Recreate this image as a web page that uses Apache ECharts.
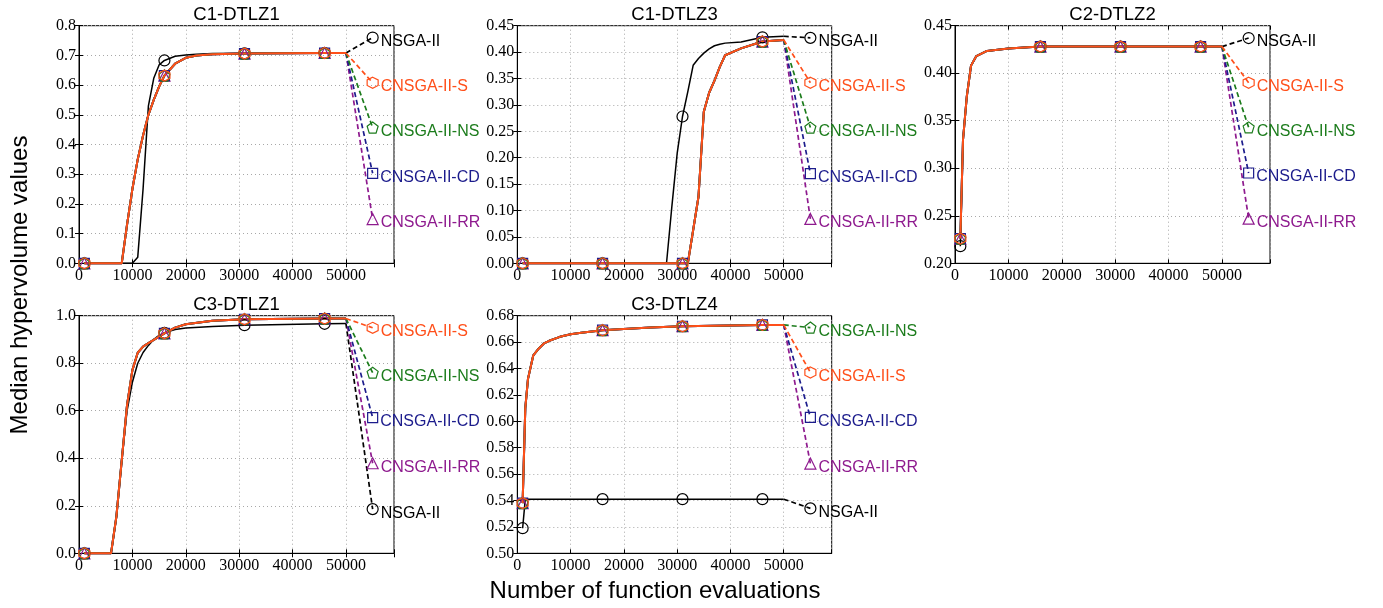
<!DOCTYPE html>
<html>
<head>
<meta charset="utf-8">
<script src="https://cdn.jsdelivr.net/npm/echarts@6/dist/echarts.min.js"></script>
<style>
html, body { margin: 0; padding: 0; background: #fff; }
#main { width: 1383px; height: 608px; }
</style>
</head>
<body>
<div id="main"></div>
<script>
var algos = ['NSGA-II', 'CNSGA-II-S', 'CNSGA-II-NS', 'CNSGA-II-CD', 'CNSGA-II-RR'];
var markEvals = [1000, 16000, 31000, 46000];
var labelEval = 55000;

// C1-DTLZ1
var c1d1Evals = [1000, 8000, 9000, 10000, 11000, 12000, 13000, 14000, 15000, 16000, 18000, 20000, 22000, 25000, 31000, 46000, 50000];
var c1d1Nsga = [0, 0, 0, 0, 0.02, 0.25, 0.53, 0.623, 0.668, 0.683, 0.697, 0.701, 0.704, 0.706, 0.707, 0.708, 0.708];
var c1d1Cnsga = [0, 0, 0.13, 0.25, 0.35, 0.43, 0.50, 0.55, 0.595, 0.632, 0.672, 0.692, 0.700, 0.704, 0.706, 0.708, 0.708];
var c1d1Ends = [0.76, 0.608, 0.457, 0.303, 0.149];

// C1-DTLZ3
var c1d3Evals = [1000, 16000, 28000, 29000, 30000, 31000, 32000, 33000, 34000, 35000, 36000, 37000, 38000, 39000, 42000, 46000, 50000];
var c1d3Nsga = [0, 0, 0, 0.107, 0.208, 0.278, 0.325, 0.375, 0.388, 0.398, 0.406, 0.412, 0.415, 0.417, 0.419, 0.428, 0.43];
var c1d3Cnsga = [0, 0, 0, 0, 0, 0, 0, 0.063, 0.126, 0.287, 0.323, 0.346, 0.372, 0.394, 0.407, 0.42, 0.423];
var c1d3Ends = [0.427, 0.342, 0.257, 0.170, 0.084];

// C2-DTLZ2
var c2d2Evals = [1000, 1500, 2200, 3000, 4000, 6000, 10000, 16000, 31000, 46000, 50000];
var c2d2Nsga = [0.218, 0.33, 0.375, 0.408, 0.418, 0.4235, 0.426, 0.428, 0.428, 0.428, 0.428];
var c2d2Cnsga = [0.226, 0.33, 0.375, 0.408, 0.418, 0.4235, 0.426, 0.428, 0.428, 0.428, 0.428];
var c2d2Ends = [0.437, 0.390, 0.343, 0.295, 0.247];

// C3-DTLZ1
var c3d1Evals = [1000, 6000, 7000, 8000, 9000, 10000, 11000, 12000, 13000, 14000, 15000, 16000, 18000, 20000, 25000, 31000, 46000, 50000];
var c3d1Nsga = [0, 0, 0.15, 0.39, 0.6, 0.72, 0.80, 0.845, 0.875, 0.9, 0.917, 0.928, 0.942, 0.948, 0.955, 0.96, 0.966, 0.967];
var c3d1Cnsga = [0, 0, 0.154, 0.39, 0.624, 0.771, 0.844, 0.87, 0.885, 0.898, 0.912, 0.926, 0.95, 0.964, 0.979, 0.985, 0.988, 0.988];
var c3d1Ends = [0.186, 0.949, 0.760, 0.571, 0.379];

// C3-DTLZ4
var c3d4Evals = [1000, 1500, 2000, 3000, 4000, 5000, 6000, 8000, 10000, 12000, 16000, 20000, 25000, 31000, 46000, 50000];
var c3d4Nsga = [0.519, 0.541, 0.541, 0.541, 0.541, 0.541, 0.541, 0.541, 0.541, 0.541, 0.541, 0.541, 0.541, 0.541, 0.541, 0.541];
var c3d4Cnsga = [0.538, 0.61, 0.632, 0.650, 0.655, 0.659, 0.661, 0.664, 0.666, 0.667, 0.669, 0.670, 0.671, 0.672, 0.673, 0.673];
var c3d4Ends = [0.534, 0.637, 0.671, 0.603, 0.568];

var panels = [
    { title: 'C1-DTLZ1', evals: c1d1Evals, nsga: c1d1Nsga, cnsga: c1d1Cnsga, ends: c1d1Ends, yMin: 0, yMax: 0.8, yStep: 0.1, dec: 1 },
    { title: 'C1-DTLZ3', evals: c1d3Evals, nsga: c1d3Nsga, cnsga: c1d3Cnsga, ends: c1d3Ends, yMin: 0, yMax: 0.45, yStep: 0.05, dec: 2 },
    { title: 'C2-DTLZ2', evals: c2d2Evals, nsga: c2d2Nsga, cnsga: c2d2Cnsga, ends: c2d2Ends, yMin: 0.2, yMax: 0.45, yStep: 0.05, dec: 2 },
    { title: 'C3-DTLZ1', evals: c3d1Evals, nsga: c3d1Nsga, cnsga: c3d1Cnsga, ends: c3d1Ends, yMin: 0, yMax: 1.0, yStep: 0.2, dec: 1 },
    { title: 'C3-DTLZ4', evals: c3d4Evals, nsga: c3d4Nsga, cnsga: c3d4Cnsga, ends: c3d4Ends, yMin: 0.5, yMax: 0.68, yStep: 0.02, dec: 2 }
];

// layout (left, top, width, height)
var boxes = [
    [79, 25.7, 315, 237.6],
    [517.3, 25.7, 314.4, 237.6],
    [955, 25.7, 315, 237.6],
    [79, 315.7, 315, 237.6],
    [517.3, 315.7, 314.4, 237.6]
];

var colors = ['#000000', '#ff4f1a', '#1c7c1c', '#1c1c8c', '#8e1a8e'];
var hexagon = 'path://M5,0 L9.33,2.5 L9.33,7.5 L5,10 L0.67,7.5 L0.67,2.5 Z';
var pentagon = 'path://M5,0 L10,3.6 L8.1,9.5 L1.9,9.5 L0,3.6 Z';
var symbols = ['circle', hexagon, pentagon, 'rect', 'triangle'];
var symSizes = [11, 11, 11, 10, 11];
var drawOrder = [0, 4, 3, 2, 1];

var SANS = '"Liberation Sans", Arial, Helvetica, sans-serif';
var SERIF = '"Liberation Serif", "Times New Roman", serif';
var gridLine = { color: '#a8a8a8', type: [1, 3], width: 1 };

var grids = [], xAxes = [], yAxes = [], series = [], graphics = [];

panels.forEach(function (p, i) {
    var b = boxes[i];
    grids.push({ left: b[0], top: b[1], width: b[2], height: b[3], show: true, borderColor: '#000', borderWidth: 1 });
    xAxes.push({
        type: 'value', gridIndex: i, min: 0, max: 59000, interval: 10000,
        axisLine: { show: true, onZero: false, lineStyle: { color: '#000', width: 1 } },
        axisTick: { show: true, inside: true, length: 4, lineStyle: { color: '#000' } },
        axisLabel: { color: '#000', fontFamily: SERIF, fontSize: 16, margin: 4,
            formatter: function (v) { return v > 50000 ? '' : String(v); } },
        splitLine: { show: true, lineStyle: gridLine }
    });
    xAxes.push({
        type: 'value', gridIndex: i, position: 'top', min: 0, max: 59000, interval: 10000,
        axisLine: { show: false }, axisLabel: { show: false }, splitLine: { show: false },
        axisTick: { show: true, inside: true, length: 4, lineStyle: { color: '#000' } }
    });
    yAxes.push({
        type: 'value', gridIndex: i, min: p.yMin, max: p.yMax, interval: p.yStep,
        axisLine: { show: true, onZero: false, lineStyle: { color: '#000', width: 1 } },
        axisTick: { show: true, inside: true, length: 4, lineStyle: { color: '#000' } },
        axisLabel: { color: '#000', fontFamily: SERIF, fontSize: 16, margin: 3,
            formatter: (function (d) { return function (v) { return v.toFixed(d); }; })(p.dec) },
        splitLine: { show: true, lineStyle: gridLine }
    });
    yAxes.push({
        type: 'value', gridIndex: i, position: 'right', min: p.yMin, max: p.yMax, interval: p.yStep,
        axisLine: { show: false }, axisLabel: { show: false }, splitLine: { show: false },
        axisTick: { show: true, inside: true, length: 4, lineStyle: { color: '#000' } }
    });

    graphics.push({
        type: 'text', x: b[0] + b[2] / 2, y: b[1] - 11,
        style: { text: p.title, fontSize: 18.5, fontFamily: SANS, fill: '#000',
            align: 'center', verticalAlign: 'middle', textAlign: 'center', textVerticalAlign: 'middle' }
    });

    drawOrder.forEach(function (k) {
        var vals = k === 0 ? p.nsga : p.cnsga;
        var sym = symbols[k];
        var line = p.evals.map(function (e, j) { return [e, vals[j]]; });
        series.push({
            type: 'line', xAxisIndex: 2 * i, yAxisIndex: 2 * i,
            data: line,
            symbol: function (v) { return markEvals.indexOf(v[0]) >= 0 ? sym : 'none'; },
            symbolSize: symSizes[k],
            showSymbol: true,
            lineStyle: { color: colors[k], width: k === 0 ? 1.5 : 2 },
            itemStyle: { color: 'rgba(255,255,255,0)', borderColor: colors[k], borderWidth: 1.2 },
            silent: true, animation: false, clip: false
        });
        series.push({
            type: 'line', xAxisIndex: 2 * i, yAxisIndex: 2 * i,
            data: [
                { value: [50000, vals[vals.length - 1]], symbol: 'none' },
                { value: [labelEval, p.ends[k]],
                  label: { show: true, position: 'right', distance: 2, offset: [0, 4],
                           formatter: algos[k], color: colors[k], fontSize: 16, fontFamily: SANS } }
            ],
            symbol: sym, symbolSize: symSizes[k], showSymbol: true,
            lineStyle: { color: colors[k], width: 1.7, type: [5, 3] },
            itemStyle: { color: 'rgba(255,255,255,0)', borderColor: colors[k], borderWidth: 1.2 },
            silent: true, animation: false, clip: false
        });
    });
});

graphics.push({
    type: 'text', x: 20, y: 285, rotation: Math.PI / 2,
    style: { text: 'Median hypervolume values', fontSize: 24, fontFamily: SANS, fill: '#000',
        align: 'center', verticalAlign: 'middle', textAlign: 'center', textVerticalAlign: 'middle' }
});
graphics.push({
    type: 'text', x: 655, y: 591,
    style: { text: 'Number of function evaluations', fontSize: 24, fontFamily: SANS, fill: '#000',
        align: 'center', verticalAlign: 'middle', textAlign: 'center', textVerticalAlign: 'middle' }
});

var myChart = echarts.init(document.getElementById('main'));
myChart.setOption({
    animation: false,
    backgroundColor: '#fff',
    grid: grids,
    xAxis: xAxes,
    yAxis: yAxes,
    series: series,
    graphic: graphics
});
</script>
</body>
</html>
